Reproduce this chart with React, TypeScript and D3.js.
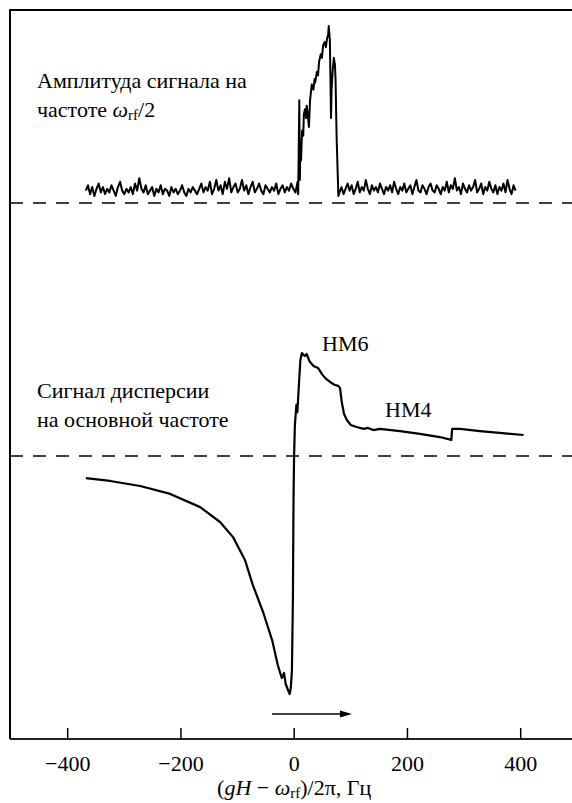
import React from 'react';
import * as d3 from 'd3';

const W = 572, H = 803;
const frame = { left: 10, top: 10, bottom: 739 };
const serif = 'Liberation Serif';

// tick values on the frequency axis, Hz
const xTicks = [-400, -200, 0, 200, 400];

// upper trace: signal amplitude at ω_rf/2 (arb. units, 0 = dashed baseline)
const noiseLeftRange = [-368, 6];
const noiseLeft = [
    7, 10, 5, 9, 4, 8, 11, 6, 9, 5,
    8, 6, 10, 7, 4, 9, 12, 7, 5, 8,
    6, 9, 5, 11, 7, 14, 8, 6, 10, 5,
    7, 9, 4, 8, 6, 10, 5, 8, 7, 4,
    9, 6, 8, 5, 7, 10, 6, 4, 8, 6,
    9, 7, 5, 8, 11, 6, 9, 7, 12, 5,
    8, 13, 7, 10, 5, 12, 8, 14, 6, 9,
    11, 6, 8, 13, 7, 10, 5, 9, 12, 6,
    8, 11, 7, 5, 10, 8, 6, 9, 7, 11,
    5, 8, 10, 6, 9, 7, 11, 8, 6, 12
];
const peakX = [7, 8, 9, 10, 11, 12, 14, 16, 17, 19, 21, 22, 24, 26, 28, 31, 34, 36, 37, 40, 42, 44, 47, 49, 51, 54, 56, 58, 60, 61, 63, 64, 65, 66, 68, 70, 72, 73, 75, 77, 78];
const peakY = [5, 30, 58, 13, 35, 24, 41, 38, 50, 53, 48, 55, 50, 43, 58, 67, 64, 70, 68, 74, 72, 80, 84, 82, 89, 91, 88, 93, 95, 100, 92, 70, 48, 64, 75, 82, 78, 70, 36, 15, 4];
const noiseRightRange = [80, 391];
const noiseRight = [
    6, 9, 5, 8, 11, 7, 10, 5, 8, 12,
    6, 9, 7, 13, 8, 5, 10, 7, 9, 6,
    11, 8, 5, 9, 7, 10, 6, 12, 8, 5,
    9, 7, 11, 6, 8, 10, 5, 9, 13, 7,
    6, 10, 8, 5, 9, 11, 7, 6, 10, 8,
    5, 9, 7, 12, 6, 10, 8, 14, 7, 9,
    5, 11, 8, 6, 10, 7, 9, 13, 6, 8,
    11, 5, 9, 7, 12, 8, 6, 10, 5, 9,
    7, 11, 6, 13, 8, 5, 10, 7
];

// lower trace: dispersion signal at the main frequency (arb. units)
const dispX = [-368, -325, -272, -219, -166, -131, -108, -87, -73, -55,
    -39, -29, -22, -18, -15, -11, -8, -6, -4, -2.3,
    -1.2, -0.2, 1.2, 3.9, 5.6, 8.3, 10.9, 13.6, 17, 19,
    22, 27, 34, 42, 50, 57, 66, 72, 78, 81,
    84, 88, 93, 100, 110, 123, 130, 140, 151, 187,
    222, 257, 277.5, 279, 293, 328, 363, 405];
const dispY = [-9.2, -10.4, -12.5, -15.8, -21.3, -27.5, -33.8, -43.3, -53.8, -65,
    -76.7, -87.1, -92.5, -90.4, -95, -97.5, -99.2, -96.7, -89.2, -60,
    -18.3, 0, 12.9, 21.3, 18.3, 29.6, 40, 42.9, 42, 41.7,
    42.5, 39.5, 37.5, 36.7, 33.8, 32, 30.4, 29.6, 29.2, 28.3,
    22.5, 17.5, 15, 12.9, 12.1, 11.3, 11.7, 10.8, 11.3, 10.4,
    9.2, 7.9, 6.7, 11.3, 11.3, 10.4, 9.6, 8.75];

// sweep direction arrow, Hz
const arrowFrom = -39, arrowTo = 102;

// spread a sampled noise run evenly over its frequency range
const sampled = (vals: number[], range: number[]): [number, number][] => {
    const s = d3.scaleLinear().domain([0, vals.length - 1]).range(range);
    return vals.map((v, i) => [s(i), v]);
};

const T = (props: any) => <text fontFamily={serif} fontSize={22} fill="#000" {...props} />;

export default function App() {
    const x = d3.scaleLinear().domain([-400, 400]).range([67.7, 520.7]);
    const yTop = d3.scaleLinear().domain([0, 100]).range([203, 26]);
    const yLow = d3.scaleLinear().domain([0, -100]).range([456, 696]);

    const upperPts: [number, number][] = [
        ...sampled(noiseLeft, noiseLeftRange),
        ...peakX.map((d, i) => [d, peakY[i]] as [number, number]),
        ...sampled(noiseRight, noiseRightRange)
    ];
    const upperLine = d3.line<[number, number]>().x(d => x(d[0])).y(d => yTop(d[1]));
    const lowerLine = d3.line<number>().x(d => x(d)).y((d, i) => yLow(dispY[i]));

    const ay = 714;
    const ax1 = x(arrowFrom), ax2 = x(arrowTo);

    return (
        <svg width={W} height={H} style={{ position: 'absolute', left: 0, top: 0, background: '#fff' }}>
            {/* frame */}
            <path d={`M${frame.left},${frame.bottom}V${frame.top}H${W}`} fill="none" stroke="#000" strokeWidth={2} />
            <line x1={frame.left} x2={W} y1={frame.bottom} y2={frame.bottom} stroke="#222" strokeWidth={2} />

            {/* ticks and labels */}
            {xTicks.map(t => (
                <g key={t}>
                    <line x1={x(t)} x2={x(t)} y1={frame.bottom - 11} y2={frame.bottom} stroke="#000" strokeWidth={1.5} />
                    <T x={x(t)} y={771} textAnchor="middle">{t < 0 ? '\u2212' + Math.abs(t) : t}</T>
                </g>
            ))}
            <T x={x(0)} y={795} textAnchor="middle">
                (<tspan fontStyle="italic">gH</tspan> − <tspan fontStyle="italic">ω</tspan>
                <tspan fontSize={15} dy={3}>rf</tspan><tspan dy={-3}>)/2π, Гц</tspan>
            </T>

            {/* baselines */}
            <line x1={frame.left} x2={W} y1={yTop(0)} y2={yTop(0)} stroke="#000" strokeWidth={1.5} strokeDasharray="13 10" />
            <line x1={frame.left} x2={W} y1={yLow(0)} y2={yLow(0)} stroke="#000" strokeWidth={1.5} strokeDasharray="13 10" />

            {/* traces */}
            <path d={upperLine(upperPts) || ''} fill="none" stroke="#000" strokeWidth={2} strokeLinejoin="round" />
            <path d={lowerLine(dispX) || ''} fill="none" stroke="#000" strokeWidth={2.2} strokeLinejoin="round" />

            {/* annotations */}
            <T x={37} y={88}>Амплитуда сигнала на</T>
            <T x={37} y={117}>частоте <tspan fontStyle="italic">ω</tspan>
                <tspan fontSize={15} dy={3}>rf</tspan><tspan dy={-3}>/2</tspan>
            </T>
            <T x={37} y={398}>Сигнал дисперсии</T>
            <T x={37} y={427}>на основной частоте</T>
            <T x={322} y={351}>HM6</T>
            <T x={385} y={417}>HM4</T>

            {/* sweep arrow */}
            <line x1={ax1} x2={ax2 - 8} y1={ay} y2={ay} stroke="#000" strokeWidth={1.5} />
            <path d={`M${ax2},${ay}L${ax2 - 12},${ay - 3.5}L${ax2 - 12},${ay + 3.5}Z`} fill="#000" />
        </svg>
    );
}
